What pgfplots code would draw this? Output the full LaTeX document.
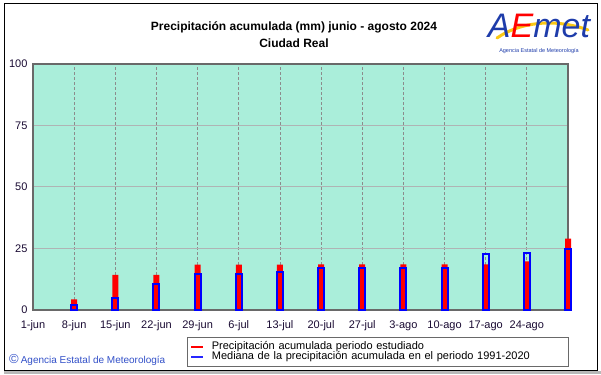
\documentclass[border=0pt]{standalone}
\usepackage{fontspec}
\setmainfont{Liberation Sans}
\usepackage{pgfplots}
\pgfplotsset{compat=1.18}
\definecolor{bgmint}{RGB}{170,238,218}
\definecolor{aeblue}{RGB}{30,60,170}
\definecolor{cblue}{RGB}{50,80,200}
\definecolor{gridgray}{RGB}{140,140,140}
\definecolor{hgridgray}{RGB}{175,180,180}
\definecolor{framegray}{RGB}{105,105,105}
\definecolor{labcol}{RGB}{25,10,50}
\definecolor{aeyellow}{RGB}{250,200,20}
\begin{document}
\begin{tikzpicture}
\begin{axis}[
  at={(33pt,64pt)}, anchor=south west, scale only axis,
  width=535pt, height=246pt,
  xmin=0, xmax=91, ymin=0, ymax=100,
  axis background/.style={fill=bgmint},
  clip=false,
  xtick={0,7,...,84},
  xticklabels={1-jun,8-jun,15-jun,22-jun,29-jun,6-jul,13-jul,20-jul,27-jul,3-ago,10-ago,17-ago,24-ago},
  ytick={0,25,50,75,100},
  major tick length=0pt,
  tick style={draw=none},
  xmajorgrids, ymajorgrids,
  x grid style={gridgray, dashed, line width=0.8pt, dash pattern=on 3pt off 2pt},
  y grid style={hgridgray, line width=1pt},
  axis line style={draw=framegray, line width=1.5pt},
  ticklabel style={font=\fontsize{11}{11}\selectfont, text=labcol},
  xticklabel style={yshift=-7pt},
  yticklabel style={xshift=-2pt},
  /pgf/number format/assume math mode=true,
  legend style={at={(axis description cs:0.288,-0.11)}, anchor=north west,
    draw=framegray, line width=1pt, fill=white,
    font=\fontsize{11}{11}\selectfont, row sep=0pt,
    inner xsep=3pt, inner ysep=4.5pt,
    nodes={text width=346pt, text height=7.5pt, text depth=2pt, inner xsep=8pt, inner ysep=0.2pt, anchor=west}},
  legend cell align=left,
]
\addlegendimage{legend image code/.code={\draw[draw=red, line width=1.3pt] (0pt,0pt) -- (12pt,0pt);}}
\addlegendentry{Precipitación acumulada periodo estudiado}
\addlegendimage{legend image code/.code={\draw[draw=blue!85, line width=1.3pt] (0pt,0pt) -- (12pt,0pt);}}
\addlegendentry{Mediana de la precipitación acumulada en el periodo 1991-2020}
\addplot[ybar, bar width=6pt, bar shift=0pt, fill=red, draw=none, forget plot] coordinates {
(7,4.3) (14,14.3) (21,14.3) (28,18.4) (35,18.4) (42,18.4) (49,18.5) (56,18.5) (63,18.5) (70,18.5) (77,18.5) (84,19.8) (91,29.0)};
\addplot[ybar, bar width=6pt, bar shift=0pt, draw=blue, line width=2pt, fill=none, forget plot] coordinates {
(7,1.9) (14,4.9) (21,10.7) (28,14.5) (35,14.5) (42,15.4) (49,16.9) (56,16.9) (63,16.9) (70,16.9) (77,22.8) (84,23.2) (91,24.9)};
\end{axis}
\begin{scope}[x=1pt,y=1pt]
\fill[gray!55] (4,0) rectangle (601,3.5);
\draw[black, line width=1pt] (4,4) rectangle (597,370);
% title
\node[font=\fontsize{12}{12}\selectfont\bfseries, text=black] at (294,374-27) {Precipitación acumulada (mm) junio - agosto 2024};
\node[font=\fontsize{12}{12}\selectfont\bfseries, text=black] at (294,374-43) {Ciudad Real};
% logo
\draw[aeyellow, line width=3pt, line cap=round] (497,374-38) .. controls (520,374-22) and (555,374-18) .. (588,374-30);
\node[font=\fontsize{34}{34}\selectfont\itshape, inner sep=0pt] at (539,374-26) {\color{aeblue}A\color{red}E\color{aeblue}met};
\node[font=\fontsize{5.5}{5.5}\selectfont, text=aeblue, inner sep=0pt] at (539,374-51) {Agencia Estatal de Meteorología};
% copyright
\node[anchor=west, inner sep=0pt, text=cblue] at (9,374-360) {{\fontsize{13}{13}\selectfont ©}\hspace{2pt}{\fontsize{10}{10}\selectfont Agencia Estatal de Meteorología}};
\pgfresetboundingbox
\path[use as bounding box] (0,0) rectangle (601,374);
\end{scope}
\end{tikzpicture}
\end{document}
